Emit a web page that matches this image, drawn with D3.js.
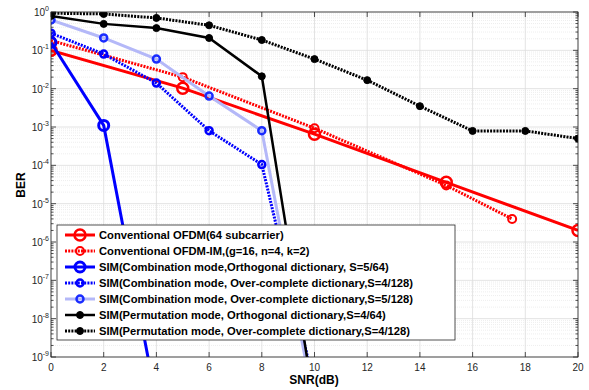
<!DOCTYPE html>
<html>
<head>
<meta charset="utf-8">
<script src="https://cdn.jsdelivr.net/npm/d3@7"></script>
<style>
  body { margin: 0; background: #fff; }
  svg { display: block; font-family: "Liberation Sans", Arial, Helvetica, sans-serif; }
</style>
</head>
<body>
<div id="chart"></div>
<script>
// series values (SNR in dB, BER)
const ofdmSnr = [0, 5, 10, 15, 20];
const ofdmBer = [0.1, 0.0103, 0.00065, 0.000036, 0.000002];

const ofdmImSnr = [0, 5, 10, 15, 17.5];
const ofdmImBer = [0.18, 0.02, 0.00093, 0.00003, 0.000004];

const simOrthSnr = [0, 2, 4];
const simOrthBer = [0.16, 0.0011, 7e-11];

const simOc4Snr = [0, 2, 4, 6, 8, 10];
const simOc4Ber = [0.28, 0.08, 0.014, 0.0008, 0.000105, 1.7e-10];

const simOc5Snr = [0, 2, 4, 6, 8, 10];
const simOc5Ber = [0.62, 0.21, 0.059, 0.0064, 0.0008, 5e-11];

const permOrthSnr = [0, 2, 4, 6, 8, 10];
const permOrthBer = [0.79, 0.49, 0.38, 0.21, 0.021, 6e-11];

const permOcSnr = [0, 2, 4, 6, 8, 10, 12, 14, 16, 18, 20];
const permOcBer = [0.93, 0.89, 0.70, 0.45, 0.186, 0.059, 0.0167, 0.0035, 0.00079, 0.00079, 0.0005];

const legendLabels = [
  "Conventional OFDM(64 subcarrier)",
  "Conventional OFDM-IM,(g=16, n=4, k=2)",
  "SIM(Combination mode,Orthogonal dictionary, S=5/64)",
  "SIM(Combination mode, Over-complete dictionary,S=4/128)",
  "SIM(Combination mode, Over-complete dictionary,S=5/128)",
  "SIM(Permutation mode, Orthogonal dictionary,S=4/64)",
  "SIM(Permutation mode, Over-complete dictionary,S=4/128)"
];
const xTicks = [0, 2, 4, 6, 8, 10, 12, 14, 16, 18, 20];
const yExponents = [0, -1, -2, -3, -4, -5, -6, -7, -8, -9];

const series = [
  {x: ofdmSnr, y: ofdmBer, color: "#ff0000", mColor: "#ff0000", dash: null, w: 3, r: 5.5, mw: 2.5, fill: "none"},
  {x: ofdmImSnr, y: ofdmImBer, color: "#ff0000", mColor: "#ff0000", dash: "2,1.2", w: 3, r: 4, mw: 2, fill: "none"},
  {x: simOrthSnr, y: simOrthBer, color: "#0000ff", mColor: "#0000ff", dash: null, w: 3, r: 5, mw: 3, fill: "none"},
  {x: simOc4Snr, y: simOc4Ber, color: "#0000ff", mColor: "#0000ff", dash: "2,1.2", w: 3, r: 3.5, mw: 2.5, fill: "none"},
  {x: simOc5Snr, y: simOc5Ber, color: "#b4b8f8", mColor: "#1a2cff", dash: null, w: 3, r: 3.5, mw: 2.5, fill: "none"},
  {x: permOrthSnr, y: permOrthBer, color: "#000000", mColor: "#000000", dash: null, w: 2.5, r: 3.5, mw: 1, fill: "#000"},
  {x: permOcSnr, y: permOcBer, color: "#000000", mColor: "#000000", dash: "2,1.2", w: 3, r: 3.5, mw: 1, fill: "#000"}
];

const W = 589, H = 390;
const mLeft = 51, mRight = 578, mTop = 12, mBottom = 357;

const x = d3.scaleLinear().domain([0, 20]).range([mLeft, mRight]);
const y = d3.scaleLog().domain([1e-9, 1]).range([mBottom, mTop]);

const svg = d3.select("#chart").append("svg").attr("width", W).attr("height", H);

svg.append("defs").append("clipPath").attr("id", "plotclip")
  .append("rect").attr("x", mLeft).attr("y", mTop).attr("width", mRight - mLeft).attr("height", mBottom - mTop);

// grid
const grid = svg.append("g");
const minorVals = [];
for (let e = -9; e < 0; e++) for (let m = 2; m <= 9; m++) minorVals.push(m * Math.pow(10, e));
grid.selectAll(".ym").data(minorVals).enter().append("line")
  .attr("x1", mLeft).attr("x2", mRight)
  .attr("y1", d => y(d)).attr("y2", d => y(d))
  .attr("stroke", "#e6e6e6").attr("stroke-width", 0.7).attr("stroke-dasharray", "1,1");
grid.selectAll(".yM").data(yExponents).enter().append("line")
  .attr("x1", mLeft).attr("x2", mRight)
  .attr("y1", d => y(Math.pow(10, d))).attr("y2", d => y(Math.pow(10, d)))
  .attr("stroke", "#dcdcdc").attr("stroke-width", 0.8);
grid.selectAll(".xM").data(xTicks).enter().append("line")
  .attr("y1", mTop).attr("y2", mBottom)
  .attr("x1", d => x(d)).attr("x2", d => x(d))
  .attr("stroke", "#dcdcdc").attr("stroke-width", 0.8);

// ticks on all four sides (inside)
const ticks = svg.append("g").attr("stroke", "#262626").attr("stroke-width", 0.8);
xTicks.forEach(t => {
  ticks.append("line").attr("x1", x(t)).attr("x2", x(t)).attr("y1", mBottom).attr("y2", mBottom - 5);
  ticks.append("line").attr("x1", x(t)).attr("x2", x(t)).attr("y1", mTop).attr("y2", mTop + 5);
});
yExponents.forEach(e => {
  const yy = y(Math.pow(10, e));
  ticks.append("line").attr("x1", mLeft).attr("x2", mLeft + 5).attr("y1", yy).attr("y2", yy);
  ticks.append("line").attr("x1", mRight).attr("x2", mRight - 5).attr("y1", yy).attr("y2", yy);
});
minorVals.forEach(v => {
  ticks.append("line").attr("x1", mLeft).attr("x2", mLeft + 2.5).attr("y1", y(v)).attr("y2", y(v));
  ticks.append("line").attr("x1", mRight).attr("x2", mRight - 2.5).attr("y1", y(v)).attr("y2", y(v));
});

// data
const plot = svg.append("g").attr("clip-path", "url(#plotclip)");
const line = d3.line().x(d => x(d[0])).y(d => y(d[1]));
series.forEach(s => {
  const pts = s.x.map((v, i) => [v, s.y[i]]);
  plot.append("path").datum(pts).attr("d", line)
    .attr("fill", "none").attr("stroke", s.color).attr("stroke-width", s.w)
    .attr("stroke-dasharray", s.dash);
  plot.selectAll(null).data(pts).enter().append("circle")
    .attr("cx", d => x(d[0])).attr("cy", d => y(d[1])).attr("r", s.r)
    .attr("fill", s.fill).attr("stroke", s.mColor).attr("stroke-width", s.mw);
});

// axes box
svg.append("rect").attr("x", mLeft).attr("y", mTop).attr("width", mRight - mLeft).attr("height", mBottom - mTop)
  .attr("fill", "none").attr("stroke", "#262626").attr("stroke-width", 0.8);

// tick labels
svg.selectAll(".xl").data(xTicks).enter().append("text")
  .attr("x", d => x(d)).attr("y", 371).attr("text-anchor", "middle")
  .attr("font-size", 10).attr("fill", "#262626").text(d => d);
yExponents.forEach(e => {
  const t = svg.append("text").attr("x", 49).attr("y", y(Math.pow(10, e)) + 4)
    .attr("text-anchor", "end").attr("font-size", 10).attr("fill", "#262626");
  t.append("tspan").text("10");
  t.append("tspan").attr("dy", -5).attr("font-size", 7).text(e);
});

svg.append("text").attr("x", 314).attr("y", 384).attr("text-anchor", "middle")
  .attr("font-size", 12).attr("font-weight", "bold").attr("fill", "#000").text("SNR(dB)");
svg.append("text").attr("transform", "translate(25,185) rotate(-90)").attr("text-anchor", "middle")
  .attr("font-size", 12).attr("font-weight", "bold").attr("fill", "#000").text("BER");

// legend
const lg = svg.append("g");
lg.append("rect").attr("x", 57).attr("y", 225).attr("width", 398).attr("height", 115)
  .attr("fill", "#fff").attr("stroke", "#262626").attr("stroke-width", 0.8);
series.forEach((s, i) => {
  const yy = 235 + i * 16;
  lg.append("line").attr("x1", 65).attr("x2", 95).attr("y1", yy).attr("y2", yy)
    .attr("stroke", s.color).attr("stroke-width", s.w).attr("stroke-dasharray", s.dash);
  lg.append("circle").attr("cx", 80).attr("cy", yy).attr("r", s.r)
    .attr("fill", s.fill).attr("stroke", s.mColor).attr("stroke-width", s.mw);
  lg.append("text").attr("x", 99).attr("y", yy + 4).attr("font-size", 11.2)
    .attr("font-weight", "bold").attr("fill", "#000").text(legendLabels[i]);
});
</script>
</body>
</html>
